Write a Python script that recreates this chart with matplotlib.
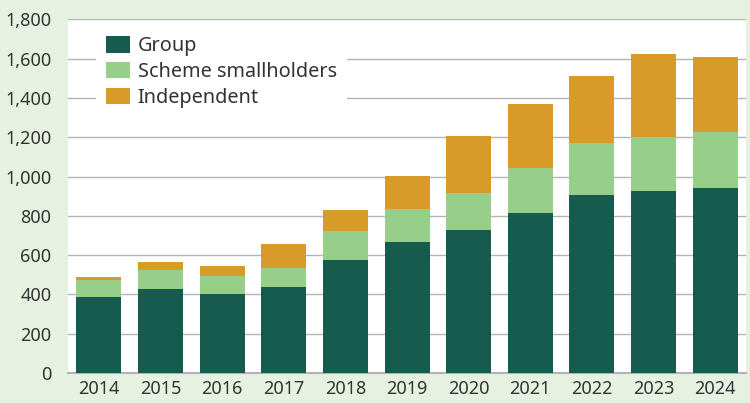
import matplotlib
matplotlib.use('Agg')
import matplotlib.pyplot as plt
import numpy as np

font = {'family': 'Noto Sans', 'size': 13}
matplotlib.rc('font', **font)

# data
years = ['2014', '2015', '2016', '2017', '2018', '2019', '2020', '2021', '2022', '2023', '2024']
group = [386, 427, 402, 437, 574, 666, 727, 813, 905, 925, 940]
scheme = [87, 97, 91, 97, 148, 168, 188, 229, 264, 275, 285]
independent = [15, 40, 51, 122, 107, 167, 290, 325, 341, 422, 381]

# colours
c_group = '#175a4e'
c_scheme = '#97ce8a'
c_indep = '#d89a28'
bg = '#e7f1e2'
txt = '#333333'

fig = plt.figure(figsize=(7.5, 4.03), dpi=100, facecolor=bg)
ax = fig.add_axes([0.0907, 0.0744, 0.904, 0.8776])
ax.set_facecolor('white')

x = np.arange(len(years))
w = 0.73
ax.bar(x, group, w, color=c_group, label='Group', zorder=3)
ax.bar(x, scheme, w, bottom=group, color=c_scheme, label='Scheme smallholders', zorder=3)
bottom2 = np.array(group) + np.array(scheme)
ax.bar(x, independent, w, bottom=bottom2, color=c_indep, label='Independent', zorder=3)

ax.set_xlim(-0.5, len(years) - 0.5)
ax.set_ylim(0, 1800)
ax.set_yticks(np.arange(0, 1801, 200))
ax.set_yticklabels(['{:,}'.format(v) for v in range(0, 1801, 200)])
ax.set_xticks(x)
ax.set_xticklabels(years)
ax.yaxis.grid(True, color='#b4b4b4', linewidth=1.0, zorder=0)
ax.set_axisbelow(True)
ax.tick_params(axis='both', length=0, colors=txt, labelsize=13)
ax.tick_params(axis='y', pad=12)
ax.tick_params(axis='x', pad=5)
for s in ['top', 'right', 'left']:
    ax.spines[s].set_visible(False)
ax.spines['bottom'].set_color('#b4b4b4')
ax.spines['bottom'].set_linewidth(1.5)

leg = ax.legend(loc='upper left', bbox_to_anchor=(0.041, 0.98), borderaxespad=0,
                frameon=True, facecolor='white', edgecolor='none', framealpha=1,
                fancybox=False, handlelength=1.2, handleheight=0.9,
                handletextpad=0.4, labelspacing=0.28, borderpad=0.5, fontsize=14.3)
for t in leg.get_texts():
    t.set_color(txt)
leg.set_zorder(5)

plt.savefig('out.png', dpi=100, facecolor=bg)
plt.close()
